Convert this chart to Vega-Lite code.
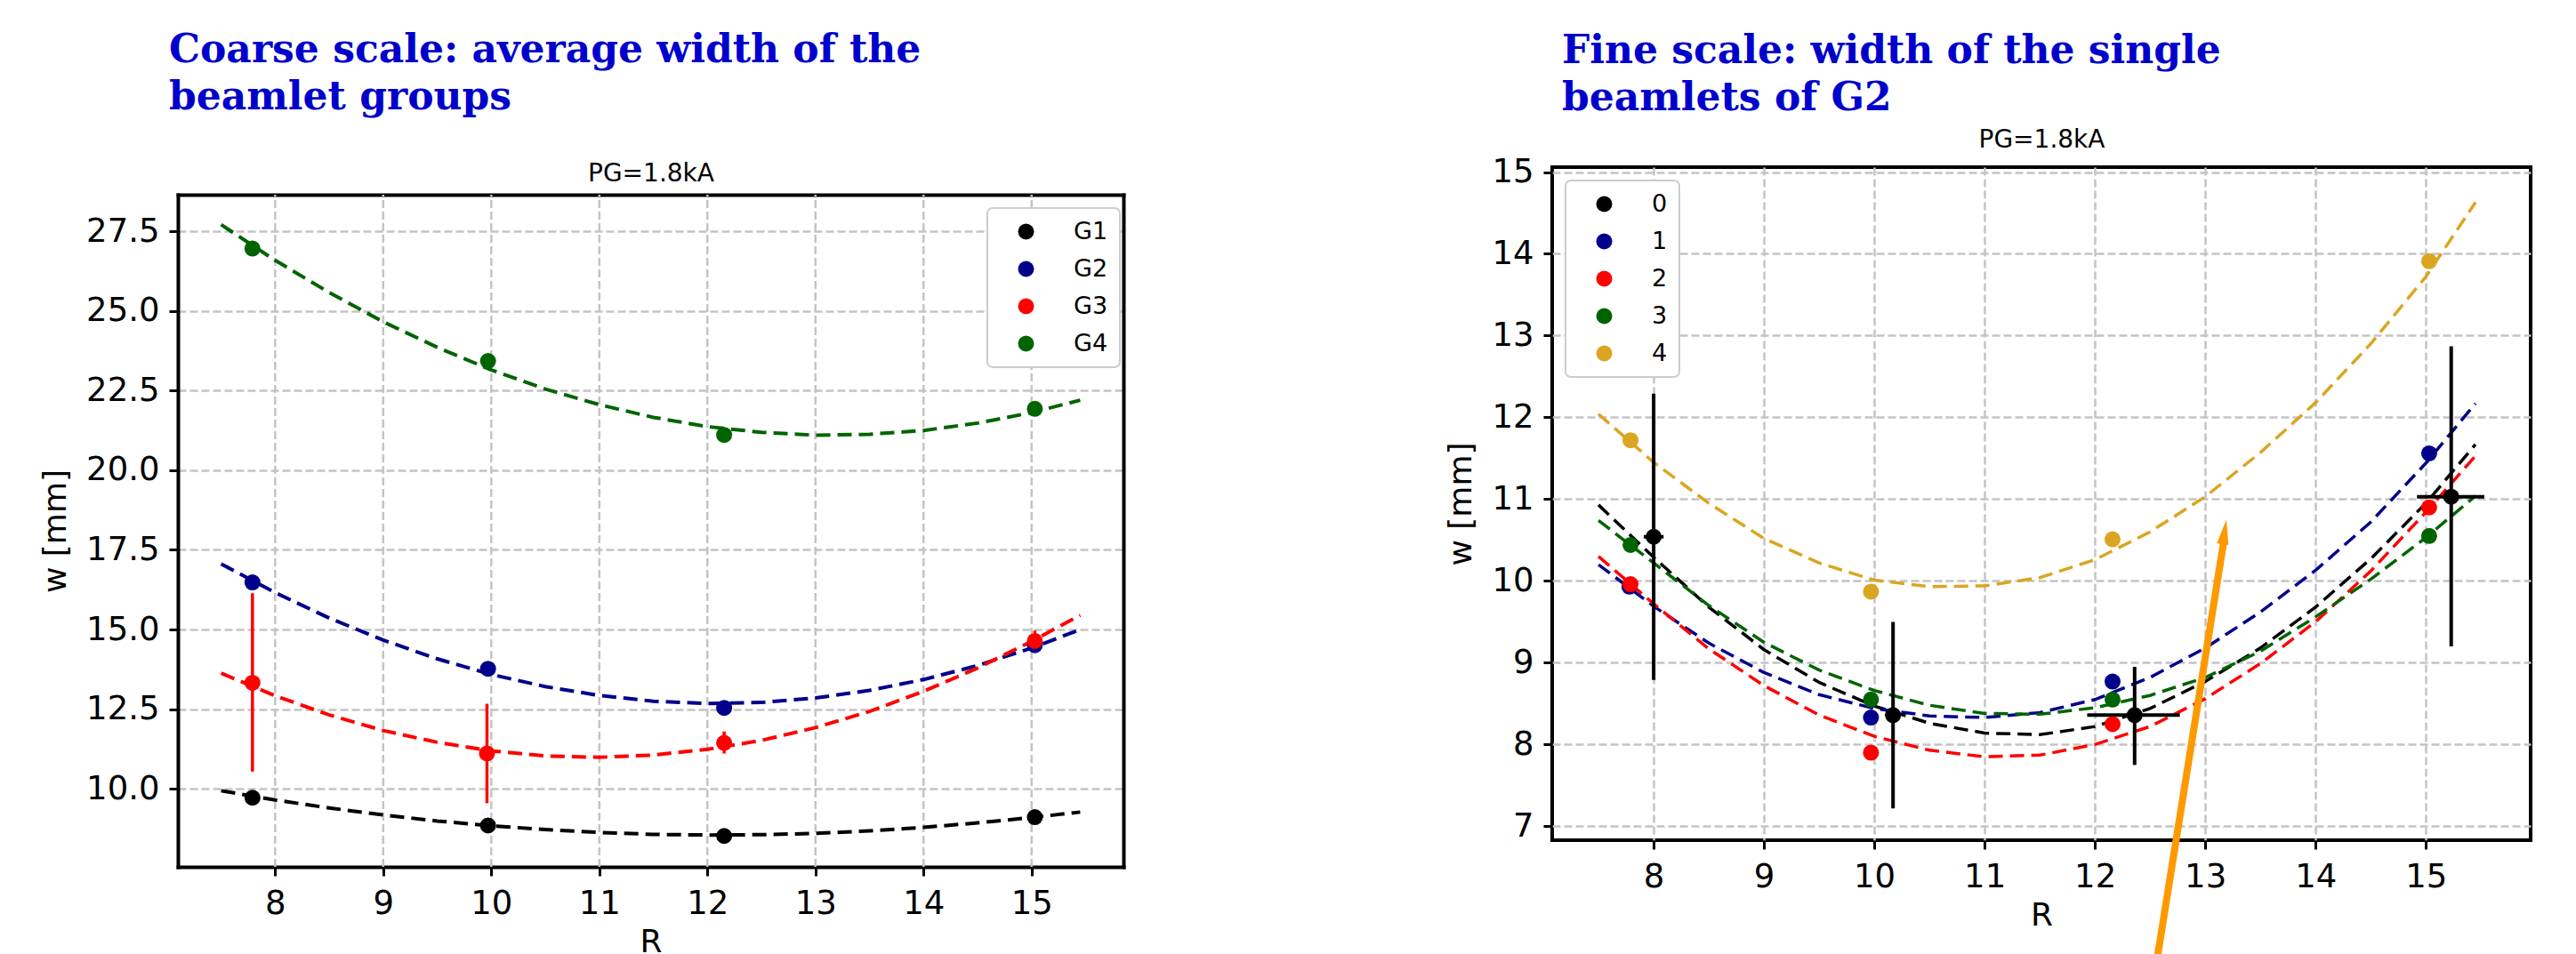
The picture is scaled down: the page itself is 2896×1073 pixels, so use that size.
{
  "$schema": "https://vega.github.io/schema/vega-lite/v6.json",
  "background": "white",
  "padding": {"left": 44, "top": 34, "right": 10, "bottom": 0},
  "spacing": 359,
  "resolve": {"scale": {"color": "independent", "stroke": "independent"}},
  "datasets": {
    "coarseGrid": [{"R": 8}, {"R": 9}, {"R": 10}, {"R": 11}, {"R": 12}, {"R": 13}, {"R": 14}, {"R": 15}],
    "coarsePts": [
      {"g": "G1", "R": 7.79, "w": 9.72}, {"g": "G1", "R": 9.97, "w": 8.85}, {"g": "G1", "R": 12.155, "w": 8.52}, {"g": "G1", "R": 15.03, "w": 9.11},
      {"g": "G2", "R": 7.79, "w": 16.48}, {"g": "G2", "R": 9.97, "w": 13.77}, {"g": "G2", "R": 12.155, "w": 12.54}, {"g": "G2", "R": 15.03, "w": 14.51},
      {"g": "G3", "R": 7.79, "w": 13.33}, {"g": "G3", "R": 9.96, "w": 11.11}, {"g": "G3", "R": 12.155, "w": 11.44}, {"g": "G3", "R": 15.03, "w": 14.64},
      {"g": "G4", "R": 7.79, "w": 26.96}, {"g": "G4", "R": 9.97, "w": 23.43}, {"g": "G4", "R": 12.155, "w": 21.11}, {"g": "G4", "R": 15.03, "w": 21.93}
    ],
    "coarseErr": [
      {"R": 7.79, "lo": 10.54, "hi": 16.14}, {"R": 9.96, "lo": 9.55, "hi": 12.67}, {"R": 12.155, "lo": 11.11, "hi": 11.8}, {"R": 15.03, "lo": 14.31, "hi": 14.97}
    ],
    "coarseFit": [
      {"g": "G1", "R": 7.5, "w": 9.94}, {"g": "G1", "R": 8, "w": 9.65}, {"g": "G1", "R": 8.5, "w": 9.4}, {"g": "G1", "R": 9, "w": 9.18}, {"g": "G1", "R": 9.5, "w": 8.99}, {"g": "G1", "R": 10, "w": 8.84}, {"g": "G1", "R": 10.5, "w": 8.72}, {"g": "G1", "R": 11, "w": 8.63}, {"g": "G1", "R": 11.5, "w": 8.57}, {"g": "G1", "R": 12, "w": 8.55}, {"g": "G1", "R": 12.5, "w": 8.56}, {"g": "G1", "R": 13, "w": 8.6}, {"g": "G1", "R": 13.5, "w": 8.68}, {"g": "G1", "R": 14, "w": 8.79}, {"g": "G1", "R": 14.5, "w": 8.93}, {"g": "G1", "R": 15, "w": 9.1}, {"g": "G1", "R": 15.45, "w": 9.27},
      {"g": "G2", "R": 7.5, "w": 17.06}, {"g": "G2", "R": 8, "w": 16.16}, {"g": "G2", "R": 8.5, "w": 15.36}, {"g": "G2", "R": 9, "w": 14.67}, {"g": "G2", "R": 9.5, "w": 14.08}, {"g": "G2", "R": 10, "w": 13.59}, {"g": "G2", "R": 10.5, "w": 13.21}, {"g": "G2", "R": 11, "w": 12.93}, {"g": "G2", "R": 11.5, "w": 12.75}, {"g": "G2", "R": 12, "w": 12.68}, {"g": "G2", "R": 12.5, "w": 12.71}, {"g": "G2", "R": 13, "w": 12.85}, {"g": "G2", "R": 13.5, "w": 13.09}, {"g": "G2", "R": 14, "w": 13.43}, {"g": "G2", "R": 14.5, "w": 13.87}, {"g": "G2", "R": 15, "w": 14.42}, {"g": "G2", "R": 15.45, "w": 15.0},
      {"g": "G3", "R": 7.5, "w": 13.63}, {"g": "G3", "R": 8, "w": 12.92}, {"g": "G3", "R": 8.5, "w": 12.32}, {"g": "G3", "R": 9, "w": 11.83}, {"g": "G3", "R": 9.5, "w": 11.46}, {"g": "G3", "R": 10, "w": 11.19}, {"g": "G3", "R": 10.5, "w": 11.03}, {"g": "G3", "R": 11, "w": 10.99}, {"g": "G3", "R": 11.5, "w": 11.06}, {"g": "G3", "R": 12, "w": 11.24}, {"g": "G3", "R": 12.5, "w": 11.52}, {"g": "G3", "R": 13, "w": 11.92}, {"g": "G3", "R": 13.5, "w": 12.43}, {"g": "G3", "R": 14, "w": 13.06}, {"g": "G3", "R": 14.5, "w": 13.79}, {"g": "G3", "R": 15, "w": 14.63}, {"g": "G3", "R": 15.45, "w": 15.45},
      {"g": "G4", "R": 7.5, "w": 27.71}, {"g": "G4", "R": 8, "w": 26.59}, {"g": "G4", "R": 8.5, "w": 25.58}, {"g": "G4", "R": 9, "w": 24.66}, {"g": "G4", "R": 9.5, "w": 23.86}, {"g": "G4", "R": 10, "w": 23.15}, {"g": "G4", "R": 10.5, "w": 22.55}, {"g": "G4", "R": 11, "w": 22.06}, {"g": "G4", "R": 11.5, "w": 21.66}, {"g": "G4", "R": 12, "w": 21.37}, {"g": "G4", "R": 12.5, "w": 21.19}, {"g": "G4", "R": 13, "w": 21.1}, {"g": "G4", "R": 13.5, "w": 21.13}, {"g": "G4", "R": 14, "w": 21.25}, {"g": "G4", "R": 14.5, "w": 21.48}, {"g": "G4", "R": 15, "w": 21.81}, {"g": "G4", "R": 15.45, "w": 22.2}
    ],
    "finePts": [
      {"s": "0", "R": 8.0, "w": 10.54}, {"s": "0", "R": 10.17, "w": 8.36}, {"s": "0", "R": 12.36, "w": 8.36}, {"s": "0", "R": 15.23, "w": 11.03},
      {"s": "1", "R": 7.78, "w": 9.93}, {"s": "1", "R": 9.97, "w": 8.33}, {"s": "1", "R": 12.16, "w": 8.77}, {"s": "1", "R": 15.03, "w": 11.56},
      {"s": "2", "R": 7.79, "w": 9.96}, {"s": "2", "R": 9.97, "w": 7.9}, {"s": "2", "R": 12.16, "w": 8.25}, {"s": "2", "R": 15.03, "w": 10.9},
      {"s": "3", "R": 7.79, "w": 10.44}, {"s": "3", "R": 9.97, "w": 8.55}, {"s": "3", "R": 12.16, "w": 8.55}, {"s": "3", "R": 15.03, "w": 10.55},
      {"s": "4", "R": 7.79, "w": 11.72}, {"s": "4", "R": 9.97, "w": 9.87}, {"s": "4", "R": 12.16, "w": 10.51}, {"s": "4", "R": 15.03, "w": 13.91}
    ],
    "fineErr": [
      {"R": 8.0, "w": 10.54, "ylo": 8.79, "yhi": 12.29, "xlo": 7.91, "xhi": 8.09},
      {"R": 10.17, "w": 8.36, "ylo": 7.22, "yhi": 9.5, "xlo": 10.1, "xhi": 10.24},
      {"R": 12.36, "w": 8.36, "ylo": 7.75, "yhi": 8.95, "xlo": 11.93, "xhi": 12.77},
      {"R": 15.23, "w": 11.03, "ylo": 9.2, "yhi": 12.87, "xlo": 14.92, "xhi": 15.53}
    ],
    "fineFit": [
      {"s": "0", "R": 7.5, "w": 10.93}, {"s": "0", "R": 8, "w": 10.29}, {"s": "0", "R": 8.5, "w": 9.68}, {"s": "0", "R": 9, "w": 9.16}, {"s": "0", "R": 9.5, "w": 8.76}, {"s": "0", "R": 10, "w": 8.47}, {"s": "0", "R": 10.5, "w": 8.26}, {"s": "0", "R": 11, "w": 8.14}, {"s": "0", "R": 11.5, "w": 8.12}, {"s": "0", "R": 12, "w": 8.22}, {"s": "0", "R": 12.5, "w": 8.44}, {"s": "0", "R": 13, "w": 8.77}, {"s": "0", "R": 13.5, "w": 9.18}, {"s": "0", "R": 14, "w": 9.68}, {"s": "0", "R": 14.5, "w": 10.27}, {"s": "0", "R": 15, "w": 10.95}, {"s": "0", "R": 15.45, "w": 11.67},
      {"s": "1", "R": 7.5, "w": 10.2}, {"s": "1", "R": 8, "w": 9.69}, {"s": "1", "R": 8.5, "w": 9.24}, {"s": "1", "R": 9, "w": 8.88}, {"s": "1", "R": 9.5, "w": 8.61}, {"s": "1", "R": 10, "w": 8.44}, {"s": "1", "R": 10.5, "w": 8.35}, {"s": "1", "R": 11, "w": 8.33}, {"s": "1", "R": 11.5, "w": 8.39}, {"s": "1", "R": 12, "w": 8.55}, {"s": "1", "R": 12.5, "w": 8.82}, {"s": "1", "R": 13, "w": 9.18}, {"s": "1", "R": 13.5, "w": 9.62}, {"s": "1", "R": 14, "w": 10.13}, {"s": "1", "R": 14.5, "w": 10.72}, {"s": "1", "R": 15, "w": 11.44}, {"s": "1", "R": 15.45, "w": 12.17},
      {"s": "2", "R": 7.5, "w": 10.3}, {"s": "2", "R": 8, "w": 9.72}, {"s": "2", "R": 8.5, "w": 9.17}, {"s": "2", "R": 9, "w": 8.72}, {"s": "2", "R": 9.5, "w": 8.36}, {"s": "2", "R": 10, "w": 8.1}, {"s": "2", "R": 10.5, "w": 7.93}, {"s": "2", "R": 11, "w": 7.85}, {"s": "2", "R": 11.5, "w": 7.87}, {"s": "2", "R": 12, "w": 8.0}, {"s": "2", "R": 12.5, "w": 8.22}, {"s": "2", "R": 13, "w": 8.56}, {"s": "2", "R": 13.5, "w": 8.99}, {"s": "2", "R": 14, "w": 9.5}, {"s": "2", "R": 14.5, "w": 10.12}, {"s": "2", "R": 15, "w": 10.84}, {"s": "2", "R": 15.45, "w": 11.53},
      {"s": "3", "R": 7.5, "w": 10.74}, {"s": "3", "R": 8, "w": 10.22}, {"s": "3", "R": 8.5, "w": 9.7}, {"s": "3", "R": 9, "w": 9.25}, {"s": "3", "R": 9.5, "w": 8.91}, {"s": "3", "R": 10, "w": 8.66}, {"s": "3", "R": 10.5, "w": 8.48}, {"s": "3", "R": 11, "w": 8.38}, {"s": "3", "R": 11.5, "w": 8.37}, {"s": "3", "R": 12, "w": 8.45}, {"s": "3", "R": 12.5, "w": 8.6}, {"s": "3", "R": 13, "w": 8.82}, {"s": "3", "R": 13.5, "w": 9.14}, {"s": "3", "R": 14, "w": 9.56}, {"s": "3", "R": 14.5, "w": 10.02}, {"s": "3", "R": 15, "w": 10.53}, {"s": "3", "R": 15.45, "w": 11.04},
      {"s": "4", "R": 7.5, "w": 12.04}, {"s": "4", "R": 8, "w": 11.45}, {"s": "4", "R": 8.5, "w": 10.95}, {"s": "4", "R": 9, "w": 10.52}, {"s": "4", "R": 9.5, "w": 10.22}, {"s": "4", "R": 10, "w": 10.01}, {"s": "4", "R": 10.5, "w": 9.93}, {"s": "4", "R": 11, "w": 9.94}, {"s": "4", "R": 11.5, "w": 10.04}, {"s": "4", "R": 12, "w": 10.26}, {"s": "4", "R": 12.5, "w": 10.6}, {"s": "4", "R": 13, "w": 11.03}, {"s": "4", "R": 13.5, "w": 11.57}, {"s": "4", "R": 14, "w": 12.18}, {"s": "4", "R": 14.5, "w": 12.9}, {"s": "4", "R": 15, "w": 13.72}, {"s": "4", "R": 15.45, "w": 14.63}
    ],
    "arrowLine": [{"R": 12.555, "w": 5.3, "R2": 13.17, "w2": 10.5}],
    "arrowHead": [{"R": 13.175, "w": 10.6}]
  },
  "hconcat": [
    {
      "title": {
        "text": ["Coarse scale: average width of the", "beamlet groups"],
        "anchor": "start", "frame": "group", "font": "DejaVu Serif", "fontSize": 44, "fontWeight": "bold",
        "color": "#0000CC", "lineHeight": 53, "offset": 49, "dx": -10
      },
      "width": 1063,
      "height": 787,
      "view": {"stroke": null},
      "resolve": {"axis": {"x": "independent", "y": "independent"}},
      "layer": [
        {
          "data": {"name": "coarseGrid"},
          "mark": {"type": "rule", "color": "#c4c4c4", "strokeDash": [9, 4], "strokeWidth": 2.5},
          "encoding": {
            "x": {"field": "R", "type": "quantitative", "axis": null},
            "y": {"datum": 7.55, "type": "quantitative", "axis": null},
            "y2": {"datum": 28.65}
          }
        },
        {
          "data": {"name": "coarseFit"},
          "mark": {"type": "line", "strokeDash": [16, 8], "strokeWidth": 4},
          "encoding": {
            "x": {"field": "R", "type": "quantitative", "scale": {"domain": [7.1, 15.85], "nice": false, "zero": false},
                  "axis": {"values": [8, 9, 10, 11, 12, 13, 14, 15], "title": "R", "grid": false, "domain": true, "domainColor": "black", "domainWidth": 4, "domainCap": "square"}},
            "y": {"field": "w", "type": "quantitative", "scale": {"domain": [7.55, 28.65], "range": [787, 31], "nice": false, "zero": false},
                  "axis": {"values": [10, 12.5, 15, 17.5, 20, 22.5, 25, 27.5], "format": ".1f", "title": "w [mm]", "titleY": 409, "grid": true, "domain": true, "domainColor": "black", "domainWidth": 4, "domainCap": "square"}},
            "stroke": {"field": "g", "type": "nominal", "scale": {"domain": ["G4", "G3", "G2", "G1"], "range": ["#006400", "red", "#00008B", "black"]}, "legend": null}
          }
        },
        {
          "data": {"name": "coarseErr"},
          "mark": {"type": "rule", "color": "red", "strokeWidth": 3.5},
          "encoding": {
            "x": {"field": "R", "type": "quantitative", "axis": null},
            "y": {"field": "lo", "type": "quantitative", "axis": null},
            "y2": {"field": "hi"}
          }
        },
        {
          "data": {"name": "coarsePts"},
          "mark": {"type": "point", "filled": true, "opacity": 1, "size": 324},
          "encoding": {
            "x": {"field": "R", "type": "quantitative",
                  "axis": {"orient": "top", "offset": -31, "title": "PG=1.8kA", "labels": false, "ticks": false, "grid": false, "titleFontSize": 28, "titlePadding": 10,
                           "domain": true, "domainColor": "black", "domainWidth": 4, "domainCap": "square"}},
            "y": {"field": "w", "type": "quantitative",
                  "axis": {"orient": "right", "title": null, "labels": false, "ticks": false, "grid": false, "domain": true, "domainColor": "black", "domainWidth": 4, "domainCap": "square"}},
            "color": {"field": "g", "type": "nominal", "scale": {"domain": ["G1", "G2", "G3", "G4"], "range": ["black", "#00008B", "red", "#006400"]},
                      "legend": {"orient": "none", "legendX": 910, "legendY": 46, "title": null}}
          }
        }
      ]
    },
    {
      "title": {
        "text": ["Fine scale: width of the single", "beamlets of G2"],
        "anchor": "start", "frame": "group", "font": "DejaVu Serif", "fontSize": 44, "fontWeight": "bold",
        "color": "#0000CC", "lineHeight": 53, "offset": 10, "dx": 11
      },
      "width": 1100,
      "height": 757,
      "resolve": {"axis": {"x": "independent"}},
      "layer": [
        {
          "data": {"name": "fineFit"},
          "mark": {"type": "line", "strokeDash": [16, 8], "strokeWidth": 3.5},
          "encoding": {
            "x": {"field": "R", "type": "quantitative", "scale": {"domain": [7.08, 15.95], "nice": false, "zero": false},
                  "axis": {"values": [8, 9, 10, 11, 12, 13, 14, 15], "title": "R", "grid": true}},
            "y": {"field": "w", "type": "quantitative", "scale": {"domain": [6.83, 15.06], "nice": false, "zero": false},
                  "axis": {"values": [7, 8, 9, 10, 11, 12, 13, 14, 15], "format": "d", "title": "w [mm]", "grid": true}},
            "stroke": {"field": "s", "type": "nominal", "scale": {"domain": ["4", "3", "2", "1", "0"], "range": ["#DAA520", "#006400", "red", "#00008B", "black"]}, "legend": null}
          }
        },
        {
          "data": {"name": "fineErr"},
          "mark": {"type": "rule", "color": "black", "strokeWidth": 4},
          "encoding": {
            "x": {"field": "R", "type": "quantitative", "axis": null},
            "y": {"field": "ylo", "type": "quantitative"},
            "y2": {"field": "yhi"}
          }
        },
        {
          "data": {"name": "fineErr"},
          "mark": {"type": "rule", "color": "black", "strokeWidth": 4},
          "encoding": {
            "x": {"field": "xlo", "type": "quantitative", "axis": null},
            "x2": {"field": "xhi"},
            "y": {"field": "w", "type": "quantitative"}
          }
        },
        {
          "data": {"name": "finePts"},
          "mark": {"type": "point", "filled": true, "opacity": 1, "size": 324},
          "encoding": {
            "x": {"field": "R", "type": "quantitative",
                  "axis": {"orient": "top", "title": "PG=1.8kA", "labels": false, "ticks": false, "domain": false, "grid": false, "titleFontSize": 28, "titlePadding": 17}},
            "y": {"field": "w", "type": "quantitative"},
            "color": {"field": "s", "type": "nominal", "scale": {"domain": ["0", "1", "2", "3", "4"], "range": ["black", "#00008B", "red", "#006400", "#DAA520"]},
                      "legend": {"orient": "top-left", "offset": 15, "title": null}}
          }
        },
        {
          "data": {"name": "arrowLine"},
          "mark": {"type": "rule", "color": "#FF9900", "strokeWidth": 8},
          "encoding": {
            "x": {"field": "R", "type": "quantitative", "axis": null},
            "x2": {"field": "R2"},
            "y": {"field": "w", "type": "quantitative"},
            "y2": {"field": "w2"}
          }
        },
        {
          "data": {"name": "arrowHead"},
          "mark": {"type": "point", "filled": true, "opacity": 1, "color": "#FF9900", "size": 784, "angle": 8.6, "shape": "M0,-1L0.47,1L-0.47,1Z"},
          "encoding": {
            "x": {"field": "R", "type": "quantitative", "axis": null},
            "y": {"field": "w", "type": "quantitative"}
          }
        }
      ]
    }
  ],
  "config": {
    "font": "DejaVu Sans",
    "view": {"stroke": "black", "strokeWidth": 4},
    "axis": {
      "labelFont": "DejaVu Sans", "labelFontSize": 37, "labelColor": "black", "labelPadding": 13,
      "titleFont": "DejaVu Sans", "titleFontSize": 36, "titleFontWeight": "normal", "titleColor": "black", "titlePadding": 8,
      "tickColor": "black", "tickWidth": 3, "tickSize": 10, "domain": false,
      "gridColor": "#c4c4c4", "gridDash": [9, 4], "gridWidth": 2.5, "gridOpacity": 1
    },
    "axisY": {"labelPadding": 11, "titlePadding": 15},
    "legend": {
      "labelFont": "DejaVu Sans", "labelFontSize": 27, "labelColor": "black", "symbolSize": 324, "symbolType": "circle",
      "padding": 13, "rowPadding": 14, "labelOffset": 40, "symbolOffset": 17,
      "fillColor": "white", "strokeColor": "#cccccc", "strokeWidth": 2, "cornerRadius": 6
    }
  }
}
